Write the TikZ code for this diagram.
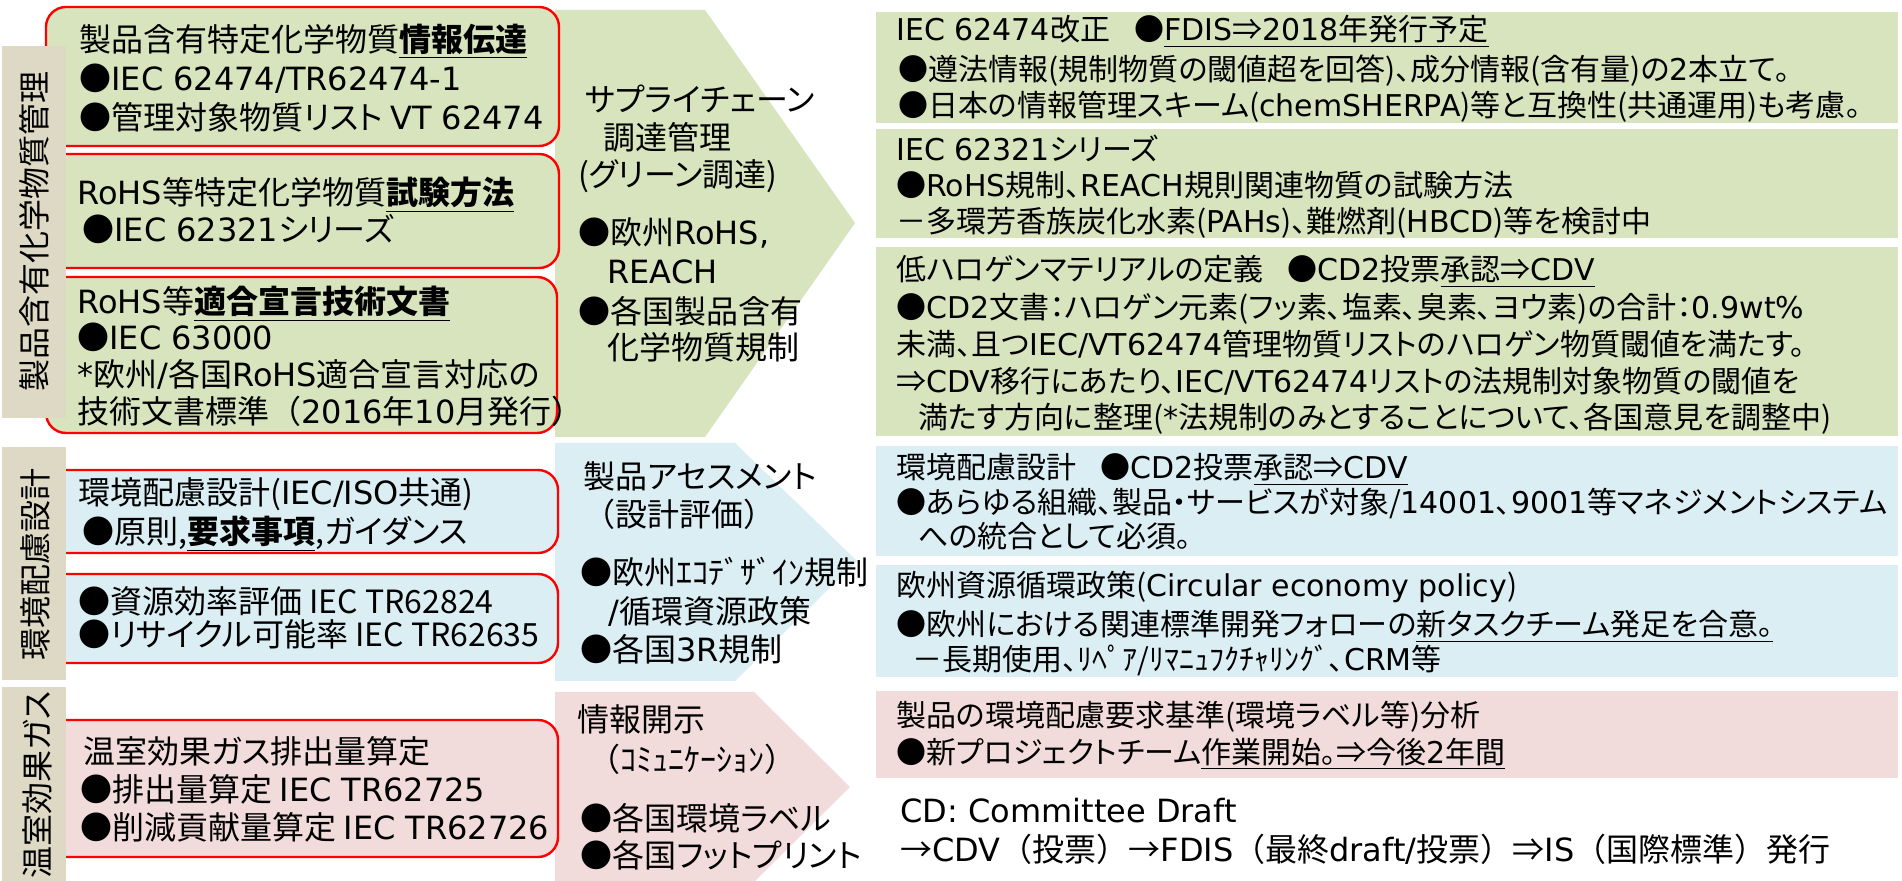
\documentclass[tikz,border=0pt]{standalone}
\usepackage{fontspec}
\setmainfont{Noto Sans CJK JP}[RawFeature=+palt]
\newfontfamily\jpf{Noto Sans CJK JP}
\newfontfamily\lat{DejaVu Sans}
\newcommand\E[1]{{\lat #1}}
\newcommand\U[1]{\underline{#1}}
\newcommand\fL{\fontsize{16pt}{19pt}\selectfont}
\newcommand\fR{\fontsize{15pt}{18pt}\selectfont}
\definecolor{grn}{RGB}{215,228,189}
\definecolor{blu}{RGB}{219,238,244}
\definecolor{pnk}{RGB}{242,220,219}
\definecolor{bandc}{RGB}{221,217,196}
\tikzset{
  tl/.style={inner sep=0pt, anchor=base west, font=\fL},
  tr/.style={inner sep=0pt, anchor=base west, font=\fR},
  lab/.style={inner sep=0pt, rotate=90, font=\fL},
  lbox/.style={draw=red, line width=1.2pt, rounded corners=10pt},
}
\begin{document}
\begin{tikzpicture}[x=0.5pt,y=-0.5pt]
\useasboundingbox (0,0) rectangle (1902,881);
\fill[white] (0,0) rectangle (1902,881);
% chevrons
\fill[grn] (555,10) -- (705,10) -- (855,223) -- (705,437) -- (555,437) -- cycle;
\fill[blu] (555,443) -- (735,443) -- (857,561) -- (735,681) -- (555,681) -- cycle;
\fill[pnk] (555,692) -- (754,692) -- (850,787) -- (754,882) -- (555,882) -- cycle;
% left boxes
\draw[lbox, fill=grn] (46,7) rectangle (559,146);
\draw[lbox, fill=grn] (46,154) rectangle (559,268);
\draw[lbox, fill=grn] (46,277) rectangle (557,433);
\draw[lbox, fill=blu] (46,470) rectangle (558,553);
\draw[lbox, fill=blu] (46,574) rectangle (558,663);
\draw[lbox, fill=pnk] (46,720) rectangle (558,857);
% category bands
\fill[bandc] (2,46) rectangle (66,418);
\fill[bandc] (2,447) rectangle (66,680);
\fill[bandc] (2,687) rectangle (66,881);
\node[lab] (c1) at (34,232) {製品含有化学物質管理};
\node[lab] (c2) at (35,565) {環境配慮設計};
\node[lab] (c3) at (37,785) {温室効果ガス};
% right boxes
\fill[grn] (876,12) rectangle (1898,123);
\fill[grn] (876,129) rectangle (1898,238);
\fill[grn] (876,247) rectangle (1898,436);
\fill[blu] (876,446) rectangle (1898,556);
\fill[blu] (876,565) rectangle (1898,677);
\fill[pnk] (876,691) rectangle (1898,778);
% left box texts
\node[tl] (b1a) at (79,52) {製品含有特定化学物質\U{\textbf{情報伝達}}};
\node[tl] (b1b) at (79,91) {●\E{IEC 62474/TR62474-1}};
\node[tl] (b1c) at (79,130) {●管理対象物質リスト \E{VT 62474}};
\node[tl] (b2a) at (77,205) {\E{RoHS}等特定化学物質\U{\textbf{試験方法}}};
\node[tl] (b2b) at (82,242) {●\E{IEC 62321}シリーズ};
\node[tl] (b3a) at (77,314) {\E{RoHS}等\U{\textbf{適合宣言技術文書}}};
\node[tl] (b3b) at (77,350) {●\E{IEC 63000}};
\node[tl] (b3c) at (77,387) {\E{*}欧州\E{/}各国\E{RoHS}適合宣言対応の};
\node[tl] (b3d) at (77,424) {技術文書標準{\jpf （}\E{2016}年\E{10}月発行{\jpf ）}};
\node[tl] (b4a) at (78,505) {環境配慮設計(\E{IEC/ISO}共通)};
\node[tl] (b4b) at (82,544) {●原則,\U{\textbf{要求事項}},ガイダンス};
\node[tl] (b5a) at (78,614) {●資源効率評価 IEC TR62824};
\node[tl] (b5b) at (78,647) {●リサイクル可能率 IEC TR62635};
\node[tl] (b6a) at (83,764) {温室効果ガス排出量算定};
\node[tl] (b6b) at (80,802) {●排出量算定 \E{IEC TR62725}};
\node[tl] (b6c) at (80,840) {●削減貢献量算定 \E{IEC TR62726}};
% chevron texts
\node[tl] (g1) at (585,112) {サプライチェーン};
\node[tl] (g2) at (603,150) {調達管理};
\node[tl] (g3) at (578,187) {(グリーン調達)};
\node[tl] (g4) at (578,245) {●欧州\E{RoHS,}};
\node[tl] (g5) at (607,284) {\E{REACH}};
\node[tl] (g6) at (578,324) {●各国製品含有};
\node[tl] (g7) at (607,360) {化学物質規制};
\node[tl] (e1) at (583,489) {製品アセスメント};
\node[tl] (e2) at (583,527) {{\jpf （}設計評価{\jpf ）}};
\node[tl] (e3) at (580,585) {●欧州ｴｺﾃﾞｻﾞｲﾝ規制};
\node[tl] (e4) at (608,624) {\E{/}循環資源政策};
\node[tl] (e5) at (580,662) {●各国\E{3R}規制};
\node[tl] (p1) at (577,732) {情報開示};
\node[tl] (p2) at (588,772) {{\jpf （}ｺﾐｭﾆｹｰｼｮﾝ{\jpf ）}};
\node[tl] (p3) at (580,830) {●各国環境ラベル};
\node[tl] (p4) at (580,867) {●各国フットプリント};
% right texts
\node[tr] (r1a) at (896,41) {\E{IEC 62474}改正\hspace{0.8em}●\U{\E{FDIS}⇒\E{2018}年発行予定}};
\node[tr] (r1b) at (898,81) {●遵法情報(規制物質の閾値超を回答)、成分情報(含有量)の\E{2}本立て。};
\node[tr] (r1c) at (898,117) {●日本の情報管理スキーム(\E{chemSHERPA})等と互換性(共通運用)も考慮。};
\node[tr] (r2a) at (896,161) {\E{IEC 62321}シリーズ};
\node[tr] (r2b) at (896,197) {●\E{RoHS}規制、\E{REACH}規則関連物質の試験方法};
\node[tr] (r2c) at (896,233) {－多環芳香族炭化水素(\E{PAHs})、難燃剤(\E{HBCD})等を検討中};
\node[tr] (r3a) at (896,281) {低ハロゲンマテリアルの定義\hspace{0.8em}●\E{CD2}投票\U{承認⇒\E{CDV}}};
\node[tr] (r3b) at (896,319) {●\E{CD2}文書：ハロゲン元素(フッ素、塩素、臭素、ヨウ素)の合計：\E{0.9wt\%}};
\node[tr] (r3c) at (896,356) {未満、且つ\E{IEC/VT62474}管理物質リストのハロゲン物質閾値を満たす。};
\node[tr] (r3d) at (896,393) {⇒\E{CDV}移行にあたり、\E{IEC/VT62474}リストの法規制対象物質の閾値を};
\node[tr] (r3e) at (918,429) {満たす方向に整理(\E{*}法規制のみとすることについて、各国意見を調整中)};
\node[tr] (r4a) at (896,479) {環境配慮設計\hspace{0.8em}●\E{CD2}投票\U{承認⇒\E{CDV}}};
\node[tr] (r4b) at (896,514) {●あらゆる組織、製品・サービスが対象/\E{14001}、\E{9001}等マネジメントシステム};
\node[tr] (r4c) at (918,548) {への統合として必須。};
\node[tr] (r5a) at (896,597) {欧州資源循環政策(\E{Circular economy policy})};
\node[tr] (r5b) at (896,636) {●欧州における関連標準開発フォローの\U{新タスクチーム発足を合意。}};
\node[tr] (r5c) at (912,671) {－長期使用、ﾘﾍﾟｱ/ﾘﾏﾆｭﾌｸﾁｬﾘﾝｸﾞ、\E{CRM}等};
\node[tr] (r6a) at (896,727) {製品の環境配慮要求基準(環境ラベル等)分析};
\node[tr] (r6b) at (896,763) {●新プロジェクトチーム\U{作業開始。⇒今後\E{2}年間}};
\node[tl] (n1) at (900,822) {\E{CD: Committee Draft}};
\node[tl] (n2) at (900,861) {\jpf →\E{CDV}（投票）→\E{FDIS}（最終\E{draft/}投票）⇒\E{IS}（国際標準）発行};
\end{tikzpicture}
\end{document}
